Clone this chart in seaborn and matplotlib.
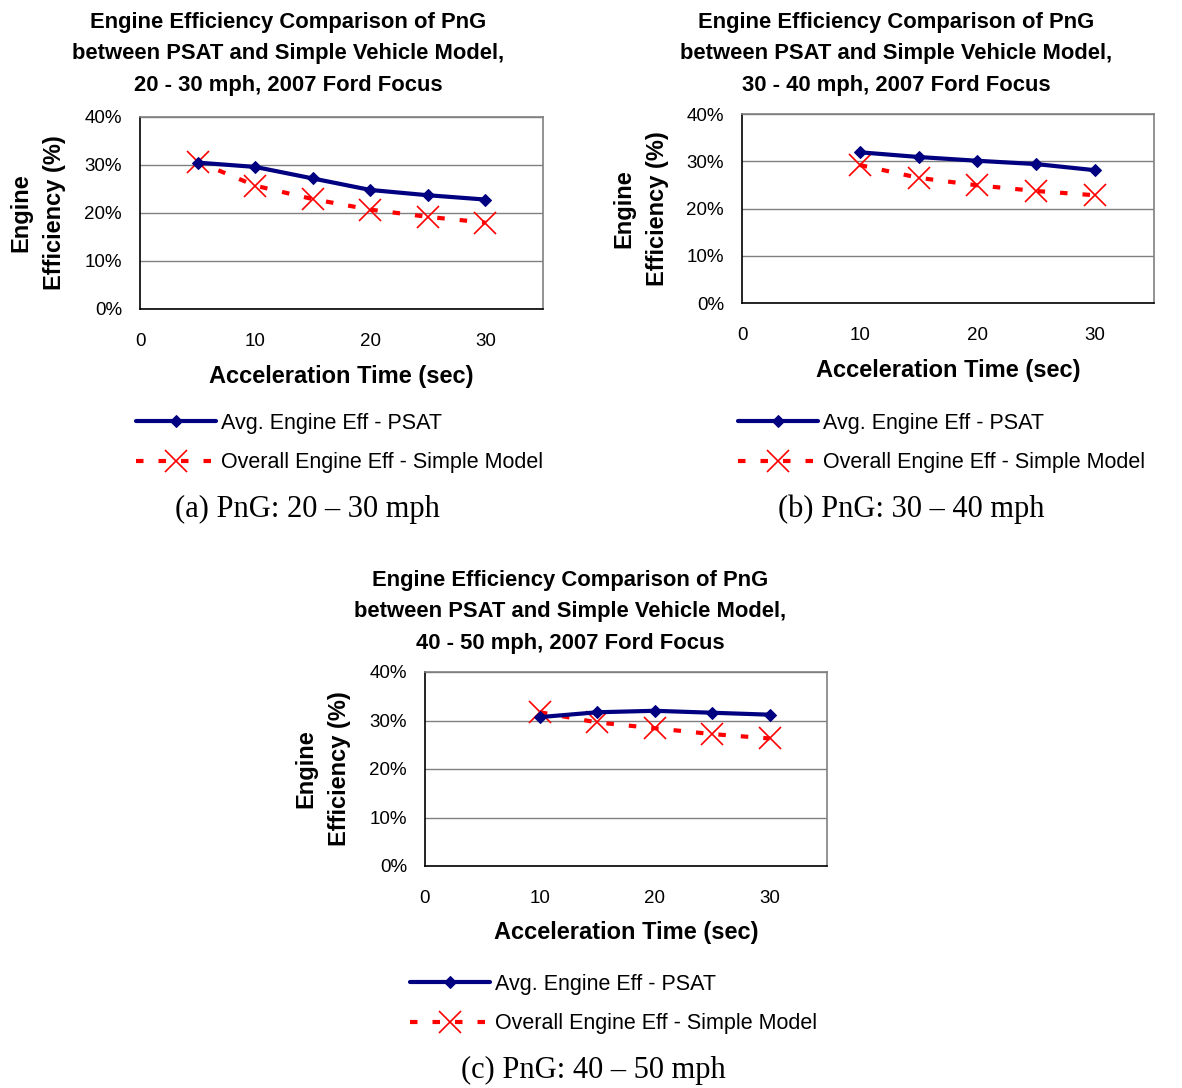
import matplotlib
matplotlib.use("Agg")
import matplotlib.pyplot as plt
import pandas as pd
import seaborn as sns
from matplotlib.ticker import FuncFormatter

# data (efficiency in %)
time_a = [5, 10, 15, 20, 25, 30]
psat_a = [30.5, 29.6, 27.2, 24.8, 23.7, 22.8]
simple_a = [30.7, 25.7, 22.9, 20.7, 19.2, 18.0]

time_bc = [10, 15, 20, 25, 30]
psat_b = [31.9, 30.9, 30.1, 29.4, 28.1]
simple_b = [29.2, 26.5, 24.9, 23.7, 22.8]

psat_c = [30.7, 31.7, 32.0, 31.6, 31.2]
simple_c = [31.7, 29.6, 28.4, 27.2, 26.3]

ranges = ["20 - 30", "30 - 40", "40 - 50"]
captions = ["(a) PnG: 20 \u2013 30 mph", "(b) PnG: 30 \u2013 40 mph", "(c) PnG: 40 \u2013 50 mph"]
psat_label = "Avg. Engine Eff - PSAT"
simple_label = "Overall Engine Eff - Simple Model"

sns.set_style("white")
plt.rcParams["font.family"] = ["Liberation Sans", "DejaVu Sans"]
plt.rcParams["text.color"] = "black"
plt.rcParams["axes.labelcolor"] = "black"
plt.rcParams["xtick.color"] = "black"
plt.rcParams["ytick.color"] = "black"

W, H = 1182, 1088
fig = plt.figure(figsize=(W / 100, H / 100), dpi=100)


def fx(px):
    return px / W


def fy(py):
    return 1 - py / H


# axes boxes in pixels: left, top, right, bottom
boxes = [(140, 117, 543, 309), (742, 114, 1154, 303), (425, 672, 827, 866)]
# title centre x, middle line y; ylabel x; caption centre x, y; legend left, top
layout = [
    dict(tx=288, ty=54, yl=38, cx=307, cy=509, lx=136, ly=413),
    dict(tx=896, ty=54, yl=641, cx=911, cy=509, lx=738, ly=413),
    dict(tx=570, ty=612, yl=323, cx=593, cy=1070, lx=410, ly=974),
]
series = [(time_a, psat_a, simple_a), (time_bc, psat_b, simple_b), (time_bc, psat_c, simple_c)]

for i in range(3):
    l, t, r, b = boxes[i]
    lay = layout[i]
    x, ps, sm = series[i]
    ax = fig.add_axes([fx(l), fy(b), fx(r - l), (b - t) / H])

    df = pd.DataFrame({"time": x, "psat": ps, "simple": sm})
    sns.lineplot(data=df, x="time", y="psat", ax=ax, color="#000080", linewidth=3.0,
                 marker="D", markersize=6.5, markeredgecolor="#000080", label=psat_label,
                 zorder=3)
    sns.lineplot(data=df, x="time", y="simple", ax=ax, color="#ff0000", linewidth=3.0,
                 linestyle=(0, (1.8, 3.6)), marker="x", markersize=15.5, markeredgewidth=1.2,
                 markeredgecolor="#ff0000", label=simple_label, zorder=2)

    ax.set_xlim(0, 35)
    ax.set_ylim(0, 40)
    ax.set_xticks([0, 10, 20, 30])
    ax.set_yticks([0, 10, 20, 30, 40])
    ax.yaxis.set_major_formatter(FuncFormatter(lambda v, p: f"{v:.0f}%"))
    ax.grid(axis="y", color="#808080", linewidth=1)
    ax.set_axisbelow(True)
    for s in ["top", "right"]:
        ax.spines[s].set_color("#808080")
        ax.spines[s].set_linewidth(1.2)
    for s in ["left", "bottom"]:
        ax.spines[s].set_color("black")
        ax.spines[s].set_linewidth(1.2)
    ax.tick_params(axis="x", direction="in", length=5, pad=17, labelsize=13.5, width=1)
    ax.tick_params(axis="y", direction="out", length=4, pad=9, labelsize=13.5, width=1)
    ax.set_xlabel("")
    ax.set_ylabel("")

    h, lab = ax.get_legend_handles_labels()
    ax.legend(h, lab, loc="upper left", bbox_to_anchor=(fx(lay["lx"]), fy(lay["ly"])),
              bbox_transform=fig.transFigure, frameon=False, fontsize=15.5,
              handlelength=3.7, handletextpad=0.23, borderpad=0, borderaxespad=0,
              labelspacing=0.85)

    title = ("Engine Efficiency Comparison of PnG\n"
             "between PSAT and Simple Vehicle Model,\n"
             f"{ranges[i]} mph, 2007 Ford Focus")
    fig.text(fx(lay["tx"]), fy(lay["ty"]), title, ha="center", va="center",
             fontsize=15.8, fontweight="bold", linespacing=1.68)
    fig.text(fx(lay["yl"]), fy((t + b) / 2), "Engine\nEfficiency (%)", rotation=90,
             ha="center", va="center", fontsize=17, fontweight="bold", linespacing=1.57)
    fig.text(fx((l + r) / 2), fy(b + 67), "Acceleration Time (sec)", ha="center",
             va="center", fontsize=17, fontweight="bold")
    fig.text(fx(lay["cx"]), fy(lay["cy"]), captions[i], ha="center", va="center",
             fontsize=22, family=["Liberation Serif", "DejaVu Serif"])

fig.savefig("out.png", dpi=100)
